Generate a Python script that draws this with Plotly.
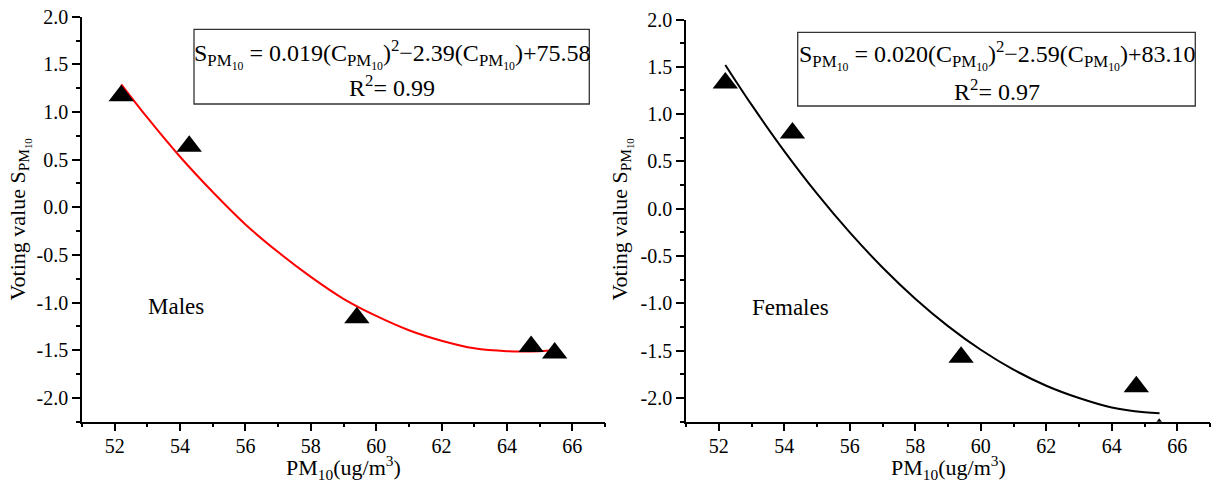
import plotly.graph_objects as go

W, H = 1218, 482

# ---------------- data ----------------
pm10_males = [52.2, 54.28, 59.41, 64.74, 65.46]
vote_males = [1.17, 0.64, -1.16, -1.46, -1.53]

pm10_females = [52.2, 54.25, 59.40, 64.75, 65.45]
vote_females = [1.33, 0.80, -1.57, -1.88, -2.33]

# fitted curves
fit_x_males = [52.2, 53, 54, 55, 56, 57, 58, 59, 60, 61, 62, 63, 64, 65, 65.46]
fit_y_males = [1.29, 0.94, 0.53, 0.16, -0.18, -0.47, -0.73, -0.96, -1.14, -1.29, -1.40, -1.48, -1.51, -1.51, -1.50]

fit_x_females = [52.2, 53, 54, 55, 56, 57, 58, 59, 60, 61, 62, 63, 64, 65, 65.46]
fit_y_females = [1.52, 1.10, 0.61, 0.16, -0.25, -0.62, -0.95, -1.24, -1.49, -1.70, -1.87, -2.00, -2.10, -2.15, -2.16]

x_tick_vals = [52, 54, 56, 58, 60, 62, 64, 66]
x_tick_text = ["52", "54", "56", "58", "60", "62", "64", "66"]
y_tick_vals = [-2.0, -1.5, -1.0, -0.5, 0.0, 0.5, 1.0, 1.5, 2.0]
y_tick_text = ["-2.0", "-1.5", "-1.0", "-0.5", "0.0", "0.5", "1.0", "1.5", "2.0"]

eq_males = ["S<sub>PM<sub>10</sub></sub> = 0.019(C<sub>PM<sub>10</sub></sub>)<sup>2</sup>\u22122.39(C<sub>PM<sub>10</sub></sub>)+75.58",
            "R<sup>2</sup>= 0.99"]
eq_females = ["S<sub>PM<sub>10</sub></sub> = 0.020(C<sub>PM<sub>10</sub></sub>)<sup>2</sup>\u22122.59(C<sub>PM<sub>10</sub></sub>)+83.10",
              "R<sup>2</sup>= 0.97"]
group_labels = ["Males", "Females"]
x_title = "PM<sub>10</sub>(ug/m<sup>3</sup>)"
y_title = "Voting value S<sub>PM<sub>10</sub></sub>"

FONT = "'Liberation Serif', 'Times New Roman', Tinos, 'DejaVu Serif', serif"


def px(x):
    return x / W


def py(y):
    return 1 - y / H


fig = go.Figure()

# Males
fig.add_trace(go.Scatter(x=fit_x_males, y=fit_y_males, mode="lines",
                         line=dict(color="#ff0000", width=2, shape="spline"),
                         xaxis="x", yaxis="y", showlegend=False, hoverinfo="skip"))
fig.add_trace(go.Scatter(x=pm10_males, y=vote_males, mode="markers",
                         marker=dict(symbol="triangle-up", size=22, color="black"),
                         xaxis="x", yaxis="y", showlegend=False))
# Females
fig.add_trace(go.Scatter(x=fit_x_females, y=fit_y_females, mode="lines",
                         line=dict(color="black", width=2, shape="spline"),
                         xaxis="x2", yaxis="y2", showlegend=False, hoverinfo="skip"))
fig.add_trace(go.Scatter(x=pm10_females, y=vote_females, mode="markers",
                         marker=dict(symbol="triangle-up", size=22, color="black"),
                         xaxis="x2", yaxis="y2", showlegend=False))

xaxis_common = dict(range=[51, 67], tickmode="array", tickvals=x_tick_vals, ticktext=x_tick_text,
                    showline=True, linecolor="black", linewidth=1.5, mirror=False,
                    ticks="outside", ticklen=8, tickwidth=1.5, tickcolor="black",
                    minor=dict(dtick=1, tick0=51, ticks="outside", ticklen=4, tickwidth=1.5, tickcolor="black"),
                    showgrid=False, zeroline=False, automargin=False, ticklabelstandoff=-2,
                    tickfont=dict(family=FONT, size=20, color="black"))
yaxis_common = dict(range=[-2.25, 2.0], tickmode="array", tickvals=y_tick_vals, ticktext=y_tick_text,
                    showline=True, linecolor="black", linewidth=1.5, mirror=False,
                    ticks="outside", ticklen=8, tickwidth=1.5, tickcolor="black",
                    minor=dict(dtick=0.25, tick0=0, ticks="outside", ticklen=4, tickwidth=1.5, tickcolor="black"),
                    showgrid=False, zeroline=False, automargin=False,
                    tickfont=dict(family=FONT, size=20, color="black"))

fig.update_layout(
    template="none",
    width=W, height=H,
    margin=dict(l=0, r=0, t=0, b=0, pad=0, autoexpand=False),
    paper_bgcolor="white", plot_bgcolor="white",
    font=dict(family=FONT, color="black"),
    xaxis=dict(domain=[px(82), px(605)], anchor="y", **xaxis_common),
    yaxis=dict(domain=[py(421.7), py(16.7)], anchor="x", **yaxis_common),
    xaxis2=dict(domain=[px(686), px(1210)], anchor="y2", **xaxis_common),
    yaxis2=dict(domain=[py(421.7), py(19.5)], anchor="x2", **yaxis_common),
    showlegend=False,
)

shapes = []
annotations = []
boxes = [(194, 29.3, 589.3, 104, eq_males, 54, 86),
         (797.7, 32.3, 1195.3, 106, eq_females, 55, 89.5)]
for (x0, y0, x1, y1, eq, yl1, yl2) in boxes:
    shapes.append(dict(type="rect", xref="paper", yref="paper",
                       x0=px(x0), x1=px(x1), y0=py(y1), y1=py(y0),
                       line=dict(color="#333333", width=1.3), fillcolor="rgba(0,0,0,0)"))
    cx = (x0 + x1) / 2
    annotations.append(dict(text=eq[0], xref="paper", yref="paper", x=px(cx), y=py(yl1),
                            xanchor="center", yanchor="middle", showarrow=False,
                            font=dict(family=FONT, size=24, color="black")))
    annotations.append(dict(text=eq[1], xref="paper", yref="paper", x=px(cx), y=py(yl2),
                            xanchor="center", yanchor="middle", showarrow=False,
                            font=dict(family=FONT, size=24, color="black")))

# group labels
for lab, (lx, ly) in zip(group_labels, [(176, 306), (790.5, 307.5)]):
    annotations.append(dict(text=lab, xref="paper", yref="paper", x=px(lx), y=py(ly),
                            xanchor="center", yanchor="middle", showarrow=False,
                            font=dict(family=FONT, size=23, color="black")))

# axis titles
for cx in [343.5, 948]:
    annotations.append(dict(text=x_title, xref="paper", yref="paper", x=px(cx), y=py(467),
                            xanchor="center", yanchor="middle", showarrow=False,
                            font=dict(family=FONT, size=22, color="black")))
for cx in [20, 622]:
    annotations.append(dict(text=y_title, xref="paper", yref="paper", x=px(cx), y=py(219.5),
                            xanchor="center", yanchor="middle", showarrow=False, textangle=-90,
                            font=dict(family=FONT, size=22, color="black")))

fig.update_layout(shapes=shapes, annotations=annotations)

fig.write_html("out.html")
